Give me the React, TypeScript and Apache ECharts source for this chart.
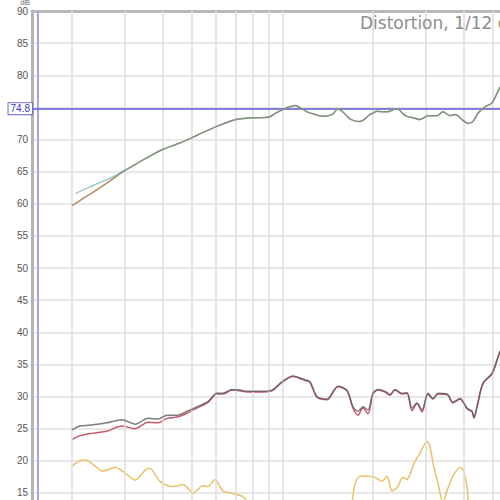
import React, { useEffect, useRef } from "react";
import * as echarts from "echarts";

const titleText = "Distortion, 1/12 octave smoothing";
const yUnit = "dB";

// vertical grid frequencies (Hz)
const gridFreqs = [20, 30, 40, 50, 60, 70, 80, 90, 100, 200, 300, 400, 500];

// cursor
const cursorLevel = 74.8;
const cursorFreq = 15.41;

// Fundamental (brown trace)
const fundFreq = [20.0, 21.25, 22.6, 24.8, 27.4, 29.8, 32.4, 36.3, 39.8, 44.7, 50.1, 54.5, 60.2, 65, 70.1, 75, 79.9, 84.3, 90.3, 95, 100.5, 104, 108.4, 110.1, 114, 117.1, 121, 126.2, 130.3, 136.5, 141.7, 147.3, 153.0, 157.8, 162, 167.7, 174, 181.1, 188, 195.5, 200, 206.2, 214.3, 219.3, 227.8, 236.6, 242.1, 251.6, 259.5, 271.7, 286.5, 304.7, 315, 326.4, 341.7, 360.5, 374.6, 395.2, 413.8, 429.6, 446.5, 471.1, 497.1, 520.4, 528.4, 560];
const fundDb = [59.7, 60.5, 61.3, 62.5, 63.9, 65.1, 66.1, 67.4, 68.4, 69.3, 70.3, 71.1, 72.0, 72.6, 73.1, 73.3, 73.4, 73.4, 73.5, 74.1, 74.7, 75.0, 75.2, 75.3, 75.0, 74.7, 74.3, 74.0, 73.8, 73.6, 73.7, 74.0, 74.8, 74.4, 73.9, 73.2, 72.9, 72.8, 73.2, 73.9, 74.1, 74.4, 74.3, 74.3, 74.4, 74.7, 74.7, 74.0, 73.6, 73.4, 73.1, 73.7, 73.7, 73.7, 74.3, 73.7, 73.9, 73.1, 72.5, 72.8, 74.1, 75.1, 75.7, 77.5, 78.1, 79.0];

// Fundamental (teal trace) – start differs, then joins the brown trace
const tealStartFreq = [20.6, 22.6, 24.8, 27.4];
const tealStartDb = [61.6, 62.5, 63.3, 64.2];
const tealJoinIndex = 5;

// THD (gray) and (red)
const thdFreq = [20.0, 21.25, 23.5, 26.1, 29.3, 32.4, 35.8, 38.6, 41.4, 44.7, 48.2, 52.0, 56.6, 60.6, 63.5, 68.0, 72.3, 76.3, 84.3, 92.4, 99.7, 108.4, 118.9, 123.5, 130.3, 140.7, 153.0, 163.9, 171.6, 178.3, 185.3, 192.5, 200, 207.8, 219.3, 227.8, 236.6, 249.7, 259.5, 269.6, 280.0, 291.0, 304.7, 316.6, 328.9, 352.3, 368.9, 389.2, 410.6, 426.7, 433.1, 443.1, 464.0, 497.1, 516.5, 528.4, 560];
const thdGrayDb = [24.8, 25.4, 25.6, 25.9, 26.4, 25.7, 26.6, 26.5, 27.1, 27.1, 27.7, 28.4, 29.2, 30.5, 30.5, 31.1, 31.0, 30.8, 30.8, 31.0, 32.3, 33.2, 32.6, 32.3, 30.0, 29.6, 31.6, 31.0, 28.4, 27.7, 28.4, 27.9, 30.5, 31.1, 30.8, 30.3, 31.1, 30.5, 30.6, 28.2, 29.0, 27.9, 30.5, 29.7, 30.5, 30.4, 29.1, 29.7, 28.2, 27.7, 26.8, 28.4, 32.1, 33.6, 35.7, 37.0, 39.0];
const thdRedDb = [23.3, 23.9, 24.3, 24.6, 25.4, 25.0, 26.0, 25.9, 26.6, 26.8, 27.4, 28.2, 29.1, 30.4, 30.4, 31.0, 30.9, 30.7, 30.7, 30.9, 32.2, 33.1, 32.5, 32.2, 29.9, 29.5, 31.5, 30.9, 28.2, 27.1, 28.2, 27.3, 30.4, 31.0, 30.7, 30.2, 31.0, 30.4, 30.5, 27.8, 28.9, 27.6, 30.4, 29.6, 30.4, 30.3, 29.0, 29.6, 28.1, 27.6, 26.6, 28.3, 32.0, 33.5, 35.6, 36.9, 38.9];

// 2nd harmonic (yellow)
const h2Freq = [20.0, 21.6, 22.6, 23.5, 24.8, 25.2, 27.4, 27.8, 29.6, 31.9, 32.4, 35.8, 36.3, 39.2, 43.3, 46.8, 50.5, 54.5, 56.6, 59.7, 63.5, 68.5, 74.0, 78.0, 100, 150, 170.2, 174.2, 181.1, 191.0, 203.1, 214.3, 222.6, 231.3, 240.3, 251.6, 259.5, 265.5, 275.8, 286.5, 302.4, 309.4, 316.6, 328.9, 341.7, 352.3, 368.9, 389.2, 398.2, 410.6, 413.8, 420, 560];
const h2Db = [19.1, 20.1, 20.0, 19.4, 18.6, 18.4, 18.9, 19.0, 18.3, 17.1, 17.0, 18.8, 18.8, 16.8, 16.0, 16.3, 15.0, 16.1, 16.0, 17.1, 15.3, 14.9, 14.4, 13.0, 6, 6, 13.5, 16.3, 17.6, 17.6, 17.4, 16.8, 17.6, 15.3, 15.8, 17.4, 17.1, 17.9, 19.9, 21.2, 23.0, 22.2, 19.6, 16.5, 13.5, 15.3, 17.6, 18.9, 18.6, 16.0, 13.5, 6, 6];

const zip = (f: number[], v: number[]) => f.map((x, i) => [x, v[i]]);

export default function App() {
  const ref = useRef<HTMLDivElement>(null);
  useEffect(() => {
    if (!ref.current) return;
    const chart = echarts.init(ref.current, undefined, { renderer: "svg" });
    const font = "Liberation Sans, Arial, sans-serif";
    const tealData = zip(tealStartFreq, tealStartDb).concat(
      zip(fundFreq.slice(tealJoinIndex), fundDb.slice(tealJoinIndex))
    );
    const traceBase = {
      type: "line",
      showSymbol: false,
      symbol: "none",
      smooth: 0.3,
      clip: true,
      silent: true,
    };
    chart.setOption({
      animation: false,
      backgroundColor: "#ffffff",
      title: {
        text: titleText,
        left: 355,
        top: 9,
        textStyle: { fontSize: 17, color: "#8e8e8e", fontWeight: "normal", fontFamily: "DejaVu Sans, sans-serif" },
      },
      grid: { left: 32, right: -10, top: 11, bottom: -25, containLabel: false, outerBoundsMode: "none" },
      xAxis: {
        type: "log",
        logBase: 10,
        min: 14.73,
        max: 570.5,
        position: "top",
        axisLine: { show: true, onZero: false, lineStyle: { color: "#b9b9b9", width: 3 } },
        axisTick: { show: false },
        axisLabel: { show: false },
        splitLine: { show: false },
        minorSplitLine: { show: false },
      },
      yAxis: {
        type: "value",
        min: 10,
        max: 90,
        interval: 5,
        name: yUnit,
        nameLocation: "end",
        nameGap: 2,
        nameTextStyle: { fontSize: 8, color: "#666", align: "right", verticalAlign: "bottom", padding: [0, 2, 0, 0], fontFamily: font },
        axisLine: { show: true, lineStyle: { color: "#b3b3b3", width: 3 } },
        axisTick: { show: false },
        axisLabel: {
          color: "#555",
          fontSize: 10,
          margin: 4,
          fontFamily: font,
          formatter: (v: number) => (v === 75 || v === 10 ? "" : String(v)),
        },
        splitLine: { show: true, lineStyle: { color: "#e0e0e0", width: 1.5 } },
      },
      series: [
        {
          type: "line",
          name: "grid",
          data: [],
          z: 1,
          silent: true,
          markLine: {
            silent: true,
            symbol: ["none", "none"],
            animation: false,
            label: { show: false },
            lineStyle: { color: "#dcdcdc", width: 1.5, type: "solid" },
            data: gridFreqs.map((f) => ({ xAxis: f })),
          },
        },
        {
          type: "line",
          name: "cursor",
          data: [],
          z: 1,
          silent: true,
          markLine: {
            silent: true,
            symbol: ["none", "none"],
            animation: false,
            data: [
              {
                xAxis: cursorFreq,
                label: { show: false },
                lineStyle: { color: "#a3a3ee", width: 2, type: "solid" },
              },
              {
                yAxis: cursorLevel,
                lineStyle: { color: "#5b5bd6", width: 1.5, type: "solid" },
                label: {
                  show: true,
                  position: "start",
                  distance: 0,
                  formatter: String(cursorLevel),
                  color: "#3a3ac0",
                  fontSize: 10,
                  fontFamily: font,
                  backgroundColor: "#ffffff",
                  borderColor: "#6a6ad8",
                  borderWidth: 1,
                  padding: [1, 2, 0, 2],
                },
              },
            ],
          },
        },
        { ...traceBase, name: "h2", z: 3, data: zip(h2Freq, h2Db), lineStyle: { color: "#eac165", width: 1.5 } },
        { ...traceBase, name: "thdRed", z: 4, data: zip(thdFreq, thdRedDb), lineStyle: { color: "#c85a68", width: 1.5 } },
        { ...traceBase, name: "thdGray", z: 5, data: zip(thdFreq, thdGrayDb), lineStyle: { color: "#5e5e5e", width: 1.5, opacity: 0.8 } },
        { ...traceBase, name: "fundBrown", z: 6, data: zip(fundFreq, fundDb), lineStyle: { color: "#b8895a", width: 1.5 } },
        { ...traceBase, name: "fundTeal", z: 7, data: tealData, lineStyle: { color: "#4f9ea8", width: 1.5, opacity: 0.55 } },
      ],
    } as any);
    return () => chart.dispose();
  }, []);
  return (
    <div
      ref={ref}
      style={{ position: "fixed", left: 0, top: 0, width: 500, height: 500 }}
    />
  );
}
